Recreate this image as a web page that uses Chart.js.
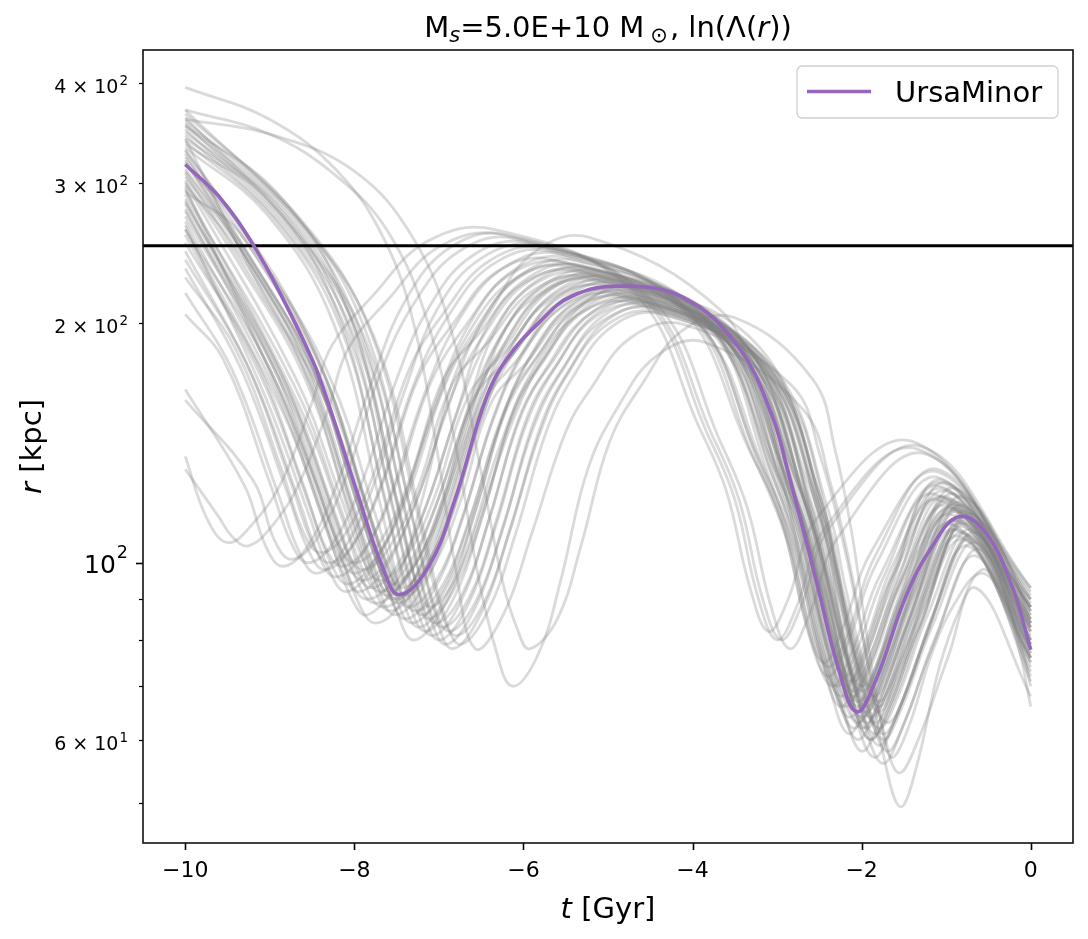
<!DOCTYPE html>
<html>
<head>
<meta charset="utf-8">
<script src="https://cdn.jsdelivr.net/npm/chart.js@4.4.1/dist/chart.umd.min.js"></script>
<style>
  html, body { margin: 0; padding: 0; background: #fff; }
  #wrap { width: 1088px; height: 939px; }
</style>
</head>
<body>
<div id="wrap"><canvas id="chart" width="1088" height="939"></canvas></div>
<script>
// ---------------- values ----------------
const xTicks = [-10, -8, -6, -4, -2, 0];
const yTicks = [50, 60, 70, 80, 90, 100, 200, 300, 400];
// label base + exponent, drawn as 'base' with a raised exponent
const yTickLabels = { 60: ['6 × 10', '1'], 100: ['10', '2'], 200: ['2 × 10', '2'], 300: ['3 × 10', '2'], 400: ['4 × 10', '2'] };
const xRange = [-10.5, 0.5];
const yRange = [44.5, 440];
const refRadius = 250;

// UrsaMinor orbit (t in Gyr, r in kpc)
const ursaT = [-10, -9.6, -9.21, -8.85, -8.5, -8.32, -7.94, -7.67, -7.47, -7.12, -6.81, -6.45, -6.2, -5.82, -5.43, -4.85, -4.1, -3.45, -3.06, -2.87, -2.54, -2.27, -2.06, -1.83, -1.48, -1.17, -0.85, -0.53, -0.22, 0];
const ursaR = [316, 288, 252, 215, 180, 160, 120, 99, 91.2, 99, 120, 160, 180, 200, 216, 222.4, 215, 186, 153, 130, 95.2, 73.4, 65, 71.3, 90.6, 104.7, 114.2, 109, 93.3, 77.8];

// sampled orbits, each one a flat list t, r, t, r, ...
// main family, close in phase to UrsaMinor
const grayA = [
  [-10,240, -9.30,180, -8.75,126, -8.50,106, -8.30,100, -8.00,106, -7.65,127, -7.25,170, -6.84,199, -6.31,232, -5.65,240, -3.98,202, -3.14,130, -2.80,105, -2.52,79, -2.30,70, -2.07,77, -1.72,97, -1.15,122, 0,88],
  [-10,246, -9.22,173, -8.67,121, -8.42,102, -8.22,96, -7.92,102, -7.57,122, -7.17,163, -6.75,203, -6.22,235, -5.55,244, -3.90,205, -3.08,127, -2.75,99, -2.47,75, -2.25,66, -2.02,73, -1.67,92, -1.10,125, 0,86],
  [-10,252, -9.15,178, -8.60,125, -8.35,105, -8.15,99, -7.85,105, -7.50,126, -7.10,168, -6.69,198, -6.16,230, -5.50,238, -3.85,200, -3.03,131, -2.70,108, -2.42,81, -2.20,72, -1.97,79, -1.62,100, -1.10,120, 0,90],
  [-10,258, -9.08,169, -8.53,118, -8.28,100, -8.08,94, -7.78,100, -7.43,119, -7.03,160, -6.63,200, -6.11,233, -5.45,241, -3.85,202, -3.05,128, -2.75,102, -2.47,77, -2.25,68, -2.02,75, -1.67,95, -1.05,127, 0,84],
  [-10,262, -9.00,175, -8.45,122, -8.20,103, -8.00,97, -7.70,103, -7.35,123, -6.95,165, -6.57,196, -6.05,228, -5.40,236, -3.78,198, -2.96,123, -2.65,96, -2.37,72, -2.15,64, -1.92,70, -1.57,89, -1.00,118, 0,82],
  [-10,268, -8.95,166, -8.40,116, -8.15,98, -7.95,92, -7.65,98, -7.30,117, -6.90,156, -6.52,198, -6.00,231, -5.35,239, -3.78,201, -2.99,129, -2.70,105, -2.42,79, -2.20,70, -1.97,77, -1.62,97, -1.05,124, 0,88],
  [-10,272, -8.90,171, -8.35,120, -8.10,101, -7.90,95, -7.60,101, -7.25,121, -6.85,162, -6.47,193, -5.95,225, -5.30,233, -3.70,196, -2.90,120, -2.60,93, -2.32,70, -2.10,62, -1.87,68, -1.52,86, -0.95,115, 0,80],
  [-10,278, -8.85,162, -8.30,113, -8.05,95, -7.85,90, -7.55,95, -7.20,114, -6.80,153, -6.45,196, -5.94,228, -5.30,236, -3.72,198, -2.94,126, -2.65,100, -2.37,76, -2.15,67, -1.92,74, -1.57,93, -1.00,121, 0,85],
  [-10,282, -8.80,167, -8.25,117, -8.00,99, -7.80,93, -7.50,99, -7.15,118, -6.75,158, -6.40,192, -5.89,223, -5.25,231, -3.68,194, -2.89,128, -2.60,107, -2.32,80, -2.10,71, -1.87,78, -1.52,99, -1.00,126, 0,90],
  [-10,286, -8.75,160, -8.20,112, -7.95,94, -7.75,89, -7.45,94, -7.10,113, -6.70,151, -6.35,194, -5.84,226, -5.20,234, -3.62,197, -2.84,121, -2.55,94, -2.27,71, -2.05,63, -1.82,69, -1.47,88, -0.95,112, 0,78],
  [-10,290, -8.70,166, -8.15,116, -7.90,98, -7.70,92, -7.40,98, -7.05,117, -6.65,156, -6.30,190, -5.79,221, -5.15,229, -3.62,192, -2.86,125, -2.60,102, -2.32,77, -2.10,68, -1.87,75, -1.52,95, -0.95,119, 0,84],
  [-10,294, -8.66,158, -8.11,111, -7.86,93, -7.66,88, -7.36,93, -7.01,112, -6.61,150, -6.25,193, -5.74,224, -5.10,232, -3.58,195, -2.81,118, -2.55,90, -2.27,68, -2.05,60, -1.82,66, -1.47,83, -0.90,110, 0,76],
  [-10,298, -9.42,250, -8.62,177, -8.07,118, -7.82,99, -7.62,91, -7.29,99, -6.96,120, -6.60,159, -6.23,188, -5.73,219, -5.10,227, -3.58,191, -2.81,122, -2.55,99, -2.27,75, -2.05,66, -1.82,73, -1.47,92, -0.95,117, 0,83],
  [-10,302, -9.38,239, -8.58,170, -8.03,113, -7.78,94, -7.58,87, -7.25,94, -6.92,115, -6.56,152, -6.19,191, -5.68,222, -5.05,230, -3.52,193, -2.76,126, -2.50,104, -2.22,78, -2.00,69, -1.77,76, -1.42,96, -0.90,122, 0,87],
  [-10,305, -9.35,248, -8.55,176, -8.00,117, -7.75,98, -7.55,90, -7.22,98, -6.89,119, -6.53,158, -6.15,187, -5.64,217, -5.00,225, -3.50,189, -2.75,118, -2.50,93, -2.22,70, -2.00,62, -1.77,68, -1.42,86, -0.90,113, 0,79],
  [-10,308, -9.32,237, -8.52,168, -7.97,112, -7.72,93, -7.52,86, -7.19,93, -6.86,114, -6.50,151, -6.11,189, -5.59,220, -4.95,228, -3.45,192, -2.70,122, -2.45,98, -2.17,73, -1.95,65, -1.72,72, -1.37,90, -0.85,116, 0,81],
  [-10,312, -9.28,245, -8.48,174, -7.93,116, -7.68,97, -7.48,89, -7.15,97, -6.82,117, -6.46,156, -6.09,185, -5.58,215, -4.95,223, -3.48,187, -2.71,114, -2.50,87, -2.22,66, -2.00,58, -1.77,64, -1.42,81, -0.85,108, 0,75],
  [-10,316, -9.24,256, -8.44,181, -7.89,121, -7.64,101, -7.44,93, -7.11,101, -6.78,123, -6.42,163, -6.04,188, -5.54,218, -4.90,226, -3.42,190, -2.69,123, -2.45,100, -2.17,76, -1.95,67, -1.72,74, -1.37,93, -0.85,119, 0,85],
  [-10,320, -9.20,234, -8.40,166, -7.85,111, -7.60,92, -7.40,85, -7.07,92, -6.74,112, -6.38,149, -6.00,183, -5.49,212, -4.85,220, -3.40,185, -2.68,118, -2.45,94, -2.17,71, -1.95,63, -1.72,69, -1.37,88, -0.80,112, 0,79],
  [-10,323, -9.16,242, -8.36,172, -7.81,114, -7.56,95, -7.36,88, -7.03,95, -6.70,116, -6.34,154, -5.98,186, -5.48,216, -4.85,224, -3.38,188, -2.64,116, -2.40,90, -2.12,68, -1.90,60, -1.67,66, -1.32,83, -0.80,109, 0,76],
  [-10,326, -9.12,231, -8.32,164, -7.77,109, -7.52,91, -7.32,84, -6.99,91, -6.66,111, -6.30,147, -5.93,181, -5.43,210, -4.80,218, -3.38,183, -2.66,120, -2.45,99, -2.17,75, -1.95,66, -1.72,73, -1.37,92, -0.85,117, 0,83],
  [-10,329, -9.08,239, -8.28,170, -7.73,113, -7.48,94, -7.28,87, -6.95,94, -6.62,115, -6.26,152, -5.89,183, -5.38,213, -4.75,221, -3.32,186, -2.61,124, -2.40,105, -2.12,79, -1.90,70, -1.67,77, -1.32,97, -0.80,121, 0,88],
  [-10,332, -9.04,274, -8.24,199, -7.69,118, -7.44,91, -7.24,83, -6.91,91, -6.58,115, -6.22,154, -5.87,179, -5.37,208, -4.75,216, -3.30,181, -2.58,115, -2.35,92, -2.07,69, -1.85,61, -1.62,67, -1.27,85, -0.80,111, 0,78],
  [-10,335, -9.00,284, -8.20,206, -7.65,122, -7.40,95, -7.20,86, -6.87,95, -6.54,119, -6.18,159, -5.83,182, -5.33,211, -4.70,219, -3.30,184, -2.60,118, -2.40,96, -2.12,72, -1.90,64, -1.67,70, -1.32,89, -0.75,114, 0,80],
  [-10,338, -8.96,271, -8.16,197, -7.61,116, -7.36,90, -7.16,82, -6.83,90, -6.50,113, -6.14,152, -5.78,178, -5.28,207, -4.65,214, -3.25,180, -2.55,110, -2.35,86, -2.07,64, -1.85,57, -1.62,63, -1.27,79, -0.75,105, 0,73],
  [-10,341, -8.92,281, -8.12,204, -7.57,121, -7.32,94, -7.12,85, -6.79,94, -6.46,117, -6.10,157, -5.76,180, -5.27,209, -4.65,217, -3.25,182, -2.55,122, -2.35,102, -2.07,77, -1.85,68, -1.62,75, -1.27,95, -0.80,118, 0,84],
  [-10,344, -8.88,267, -8.08,194, -7.53,115, -7.28,89, -7.08,81, -6.75,89, -6.42,112, -6.06,150, -5.72,176, -5.22,205, -4.60,212, -3.20,178, -2.50,115, -2.30,93, -2.02,70, -1.80,62, -1.57,68, -1.22,86, -0.70,110, 0,77],
  [-10,347, -8.84,277, -8.04,202, -7.49,119, -7.24,92, -7.04,84, -6.71,92, -6.38,116, -6.02,155, -5.67,178, -5.17,207, -4.55,215, -3.18,181, -2.49,113, -2.30,89, -2.02,67, -1.80,59, -1.57,65, -1.22,82, -0.70,107, 0,74],
  [-10,350, -8.80,264, -8.00,192, -7.45,114, -7.20,88, -7.00,80, -6.67,88, -6.34,110, -5.98,148, -5.65,174, -5.16,203, -4.55,210, -3.18,176, -2.49,117, -2.30,98, -2.02,73, -1.80,65, -1.57,72, -1.22,90, -0.75,113, 0,80],
  [-10,353, -8.76,274, -7.96,199, -7.41,118, -7.16,91, -6.96,83, -6.63,91, -6.30,115, -5.94,154, -5.61,177, -5.12,206, -4.50,213, -3.12,179, -2.44,114, -2.25,92, -1.97,69, -1.75,61, -1.52,67, -1.17,85, -0.70,108, 0,76],
  [-10,356, -8.72,261, -7.92,190, -7.37,112, -7.12,87, -6.92,79, -6.59,87, -6.26,109, -5.90,146, -5.56,173, -5.07,201, -4.45,208, -3.10,175, -2.42,108, -2.25,84, -1.97,63, -1.75,56, -1.52,62, -1.17,78, -0.65,102, 0,71],
  [-10,359, -8.68,271, -7.88,197, -7.33,116, -7.08,90, -6.88,82, -6.55,90, -6.22,113, -5.86,152, -5.54,175, -5.06,204, -4.45,211, -3.12,177, -2.46,118, -2.30,99, -2.02,75, -1.80,66, -1.57,73, -1.22,92, -0.70,115, 0,82],
  [-10,362, -8.64,257, -7.84,187, -7.29,111, -7.04,86, -6.84,78, -6.51,86, -6.18,108, -5.82,144, -5.50,171, -5.01,199, -4.40,206, -3.08,173, -2.41,111, -2.25,90, -1.97,68, -1.75,60, -1.52,66, -1.17,83, -0.65,106, 0,75],
  [-10,366, -8.60,267, -7.80,194, -7.25,115, -7.00,89, -6.80,81, -6.47,89, -6.14,112, -5.78,150, -5.48,173, -5.00,202, -4.40,209, -3.05,176, -2.38,115, -2.20,94, -1.92,71, -1.70,63, -1.47,69, -1.12,88, -0.65,109, 0,77],
  [-10,370, -8.55,261, -7.75,190, -7.20,112, -6.95,87, -6.75,79, -6.42,87, -6.09,109, -5.73,146, -5.43,170, -4.95,198, -4.35,205, -3.02,172, -2.36,109, -2.20,87, -1.92,66, -1.70,58, -1.47,64, -1.12,81, -0.60,104, 0,72],
  [-10,300, -8.70,171, -8.15,120, -7.90,101, -7.70,95, -7.40,101, -7.05,121, -6.65,162, -6.22,184, -5.68,214, -5.00,222, -3.52,186, -2.79,122, -2.55,100, -2.27,76, -2.05,67, -1.82,74, -1.47,93, -0.90,116, 0,83],
  [-10,310, -9.40,253, -8.60,179, -8.05,120, -7.80,100, -7.60,92, -7.27,100, -6.94,121, -6.58,161, -6.14,182, -5.61,211, -4.95,219, -3.48,184, -2.74,118, -2.50,96, -2.22,72, -2.00,64, -1.77,70, -1.42,89, -0.85,113, 0,80],
  [-10,318, -9.30,248, -8.50,176, -7.95,117, -7.70,98, -7.50,90, -7.17,98, -6.84,119, -6.48,158, -6.07,180, -5.55,209, -4.90,217, -3.42,182, -2.69,116, -2.45,93, -2.17,70, -1.95,62, -1.72,68, -1.37,86, -0.85,110, 0,78],
  [-10,284, -8.90,176, -8.35,123, -8.10,104, -7.90,98, -7.60,104, -7.25,124, -6.85,167, -6.42,189, -5.88,220, -5.20,228, -3.65,192, -2.88,125, -2.60,104, -2.32,78, -2.10,69, -1.87,76, -1.52,96, -0.95,120, 0,86],
  [-10,276, -9.00,180, -8.45,126, -8.20,106, -8.00,100, -7.70,106, -7.35,127, -6.95,170, -6.54,193, -6.01,224, -5.35,232, -3.75,195, -2.95,128, -2.65,107, -2.37,80, -2.15,71, -1.92,78, -1.57,99, -1.00,123, 0,88],
  [-10,330, -9.20,250, -8.40,177, -7.85,118, -7.60,99, -7.40,91, -7.07,99, -6.74,120, -6.38,159, -5.97,178, -5.45,207, -4.80,215, -3.35,181, -2.62,114, -2.40,90, -2.12,68, -1.90,60, -1.67,66, -1.32,83, -0.80,107, 0,76],
  [-10,296, -8.75,151, -8.20,106, -7.95,89, -7.75,84, -7.45,89, -7.10,107, -6.70,143, -6.32,188, -5.80,218, -5.15,226, -3.60,190, -2.82,121, -2.55,98, -2.27,73, -2.05,65, -1.82,72, -1.47,90, -0.90,117, 0,82],
  [-10,340, -9.10,220, -8.30,156, -7.75,104, -7.50,87, -7.30,80, -6.97,87, -6.64,106, -6.28,140, -5.87,176, -5.35,205, -4.70,212, -3.28,178, -2.56,116, -2.35,94, -2.07,71, -1.85,63, -1.62,69, -1.27,88, -0.75,112, 0,79],
  [-10,265, -9.10,166, -8.55,116, -8.30,98, -8.10,92, -7.80,98, -7.45,117, -7.05,156, -6.64,195, -6.11,227, -5.45,235, -3.82,197, -3.01,125, -2.70,99, -2.42,75, -2.20,66, -1.97,73, -1.62,92, -1.05,121, 0,85],
  [-10,354, -8.90,290, -8.10,211, -7.55,125, -7.30,97, -7.10,88, -6.77,97, -6.44,121, -6.08,155, -5.72,184, -5.22,214, -4.60,222, -3.20,186, -2.50,122, -2.30,100, -2.02,76, -1.80,67, -1.57,74, -1.22,93, -0.75,116, 0,83],
  [-10,292, -9.35,259, -8.55,183, -8.00,122, -7.75,102, -7.55,94, -7.22,102, -6.89,124, -6.53,165, -6.18,189, -5.68,220, -5.05,228, -3.52,192, -2.76,126, -2.50,105, -2.22,79, -2.00,70, -1.77,77, -1.42,97, -0.90,124, 0,87]
];

// early-phase orbits (first pericentre near -8.5 Gyr)
const grayB = [
  [-10,165, -9.30,125, -9.05,105, -8.85,99, -8.55,105, -8.20,126, -7.80,168, -7.39,214, -6.86,249, -6.20,258, -4.58,217, -3.76,144, -3.45,120, -3.17,90, -2.95,80, -2.72,88, -2.37,111, -1.30,140, 0,93],
  [-10,160, -9.20,127, -8.95,107, -8.75,101, -8.45,107, -8.10,128, -7.70,172, -7.29,212, -6.76,246, -6.10,255, -4.48,214, -3.66,141, -3.35,117, -3.07,88, -2.85,78, -2.62,86, -2.27,108, -1.25,137, 0,91],
  [-10,205, -9.55,180, -9.00,126, -8.75,106, -8.55,100, -8.25,106, -7.90,127, -7.50,170, -7.12,209, -6.60,243, -5.95,252, -4.20,212, -3.32,138, -2.95,113, -2.67,85, -2.45,75, -2.22,83, -1.87,104, -1.10,130, 0,89],
  [-10,218, -9.45,175, -8.90,122, -8.65,103, -8.45,97, -8.15,103, -7.80,123, -7.40,165, -7.02,208, -6.50,241, -5.85,250, -4.12,210, -3.26,134, -2.90,108, -2.62,81, -2.40,72, -2.17,79, -1.82,100, -1.10,128, 0,88],
  [-10,228, -9.40,185, -8.85,130, -8.60,109, -8.40,103, -8.10,109, -7.75,131, -7.35,175, -6.94,206, -6.41,239, -5.75,248, -4.05,208, -3.20,132, -2.85,105, -2.57,79, -2.35,70, -2.12,77, -1.77,97, -1.05,126, 0,87],
  [-10,234, -9.35,176, -8.80,123, -8.55,104, -8.35,98, -8.05,104, -7.70,124, -7.30,167, -6.89,204, -6.36,237, -5.70,246, -4.05,207, -3.22,135, -2.90,111, -2.62,84, -2.40,74, -2.17,81, -1.82,103, -1.10,131, 0,90]
];

// orbits starting close to pericentre at -10 Gyr
const grayC = [
  [-10,136, -9.75,114, -9.50,106, -9.20,112, -8.85,127, -8.50,159, -8.27,187, -7.77,217, -7.14,253, -6.35,262, -4.72,220, -3.91,147, -3.60,123, -3.32,93, -3.10,82, -2.87,90, -2.52,114, -1.40,142, 0,92],
  [-10,131, -9.60,114, -9.45,108, -9.25,105, -8.95,112, -8.65,126, -8.30,157, -8.08,185, -7.60,214, -7.00,249, -6.25,258, -4.62,217, -3.81,144, -3.50,120, -3.22,90, -3.00,80, -2.77,88, -2.42,111, -1.35,139, 0,93]
];

// late, deep orbits
const grayD = [
  [-10,395, -9.00,360, -8.20,310, -7.65,255, -7.30,200, -7.02,138, -6.80,98, -6.57,78, -6.24,86, -5.90,109, -5.50,146, -5.21,165, -4.72,192, -4.10,199, -2.83,167, -2.48,135, -2.20,104, -1.99,81, -1.75,62, -1.56,54.5, -1.33,60, -0.98,76, -0.65,93, 0,68],
  [-10,370, -9.00,345, -8.20,305, -7.60,260, -7.13,200, -6.80,140, -6.55,98, -6.33,78, -6.13,70, -5.82,77, -5.56,95, -5.24,131, -4.88,157, -4.42,182, -3.85,189, -2.70,156, -2.37,126, -2.12,97, -1.93,75, -1.72,56, -1.54,49.4, -1.36,55, -1.08,74, -0.83,88, -0.58,98, -0.36,93, -0.15,79, 0,66],
  [-10,360, -9.00,345, -8.00,310, -7.30,255, -6.85,195, -6.50,130, -6.25,95, -6.08,83, -5.93,78, -5.60,85, -5.32,105, -4.98,142, -4.59,168, -4.11,196, -3.50,203, -2.58,170, -2.31,138, -2.11,108, -1.96,84, -1.79,65, -1.65,57, -1.45,62, -1.15,78, -0.87,90, -0.60,97, -0.38,93, -0.16,82, 0,70],
  [-10,262, -8.85,155, -8.30,108, -8.05,91, -7.85,86, -7.50,95, -7.19,121, -6.82,171, -6.40,206, -5.88,245, -5.22,256, -3.68,208, -3.25,166, -2.92,125, -2.67,95, -2.38,70, -2.15,61, -1.92,68, -1.57,90, -1.26,107, -0.95,118, -0.59,113, -0.25,99, 0,84]
];

// ---------------- chart ----------------
const FONT = 'DejaVu Sans';
const PURPLE = '#9467bd';

function toXY(flat) {
  const pts = [];
  for (let i = 0; i < flat.length; i += 2) pts.push({ x: flat[i], y: flat[i + 1] });
  return pts;
}

const grayDatasets = [...grayA, ...grayB, ...grayC, ...grayD].map(orbit => ({
  data: toXY(orbit),
  borderColor: 'rgba(128,128,128,0.29)',
  borderWidth: 2.8,
  pointRadius: 0,
  tension: 0.4,
  order: 3
}));

const datasets = [
  {
    label: 'UrsaMinor',
    data: ursaT.map((t, i) => ({ x: t, y: ursaR[i] })),
    borderColor: PURPLE,
    borderWidth: 3.6,
    pointRadius: 0,
    tension: 0.4,
    order: 1
  },
  {
    data: [{ x: xRange[0], y: refRadius }, { x: xRange[1], y: refRadius }],
    borderColor: '#000',
    borderWidth: 3,
    pointRadius: 0,
    order: 2
  },
  ...grayDatasets
];

// draw a line of text made of pieces with their own font / offset
function drawPieces(ctx, pieces, x, y, align) {
  let total = 0;
  pieces.forEach(p => {
    ctx.font = p.font;
    p.w = ctx.measureText(p.text).width + (p.gap || 0);
    total += p.w;
  });
  let cx = align === 'center' ? x - total / 2 : align === 'right' ? x - total : x;
  ctx.textAlign = 'left';
  ctx.textBaseline = 'alphabetic';
  pieces.forEach(p => {
    ctx.font = p.font;
    ctx.fillText(p.text, cx + (p.gap || 0), y + (p.dy || 0));
    cx += p.w;
  });
}

const decorPlugin = {
  id: 'decor',
  afterDraw(chart) {
    const { ctx, chartArea: a, scales } = chart;
    ctx.save();
    ctx.fillStyle = '#000';
    ctx.strokeStyle = '#000';

    // tick marks
    ctx.lineWidth = 1.6;
    xTicks.forEach(v => {
      const px = Math.round(scales.x.getPixelForValue(v)) + 0.5;
      ctx.beginPath(); ctx.moveTo(px, a.bottom); ctx.lineTo(px, a.bottom + 7); ctx.stroke();
    });
    yTicks.forEach(v => {
      const py = Math.round(scales.y.getPixelForValue(v)) + 0.5;
      const major = v === 100;
      ctx.lineWidth = major ? 1.6 : 1.2;
      ctx.beginPath(); ctx.moveTo(a.left, py); ctx.lineTo(a.left - (major ? 7 : 4), py); ctx.stroke();
    });

    // y tick labels with raised exponent
    yTicks.forEach(v => {
      const lab = yTickLabels[v];
      if (!lab) return;
      const py = scales.y.getPixelForValue(v);
      const major = v === 100;
      const bs = major ? 25 : 19, ss = major ? 17.5 : 13.5;
      drawPieces(ctx, [
        { text: lab[0], font: `${bs}px "${FONT}"` },
        { text: lab[1], font: `${ss}px "${FONT}"`, dy: major ? -15 : -8, gap: 1 }
      ], a.left - 15, py + (major ? 10.5 : 10.3), 'right');
    });

    // frame
    ctx.lineWidth = 1.6;
    ctx.strokeStyle = '#111';
    ctx.strokeRect(a.left, a.top, a.right - a.left, a.bottom - a.top);

    // title
    const cx = (a.left + a.right) / 2;
    drawPieces(ctx, [
      { text: 'M', font: `29px "${FONT}"` },
      { text: 's', font: `italic 21px "${FONT}"`, dy: 5 },
      { text: '=5.0E+10 M', font: `29px "${FONT}"` },
      { text: '⊙', font: `21px "${FONT}"`, dy: 5, gap: 6 },
      { text: ', ln(Λ(', font: `29px "${FONT}"`, gap: 2 },
      { text: 'r', font: `italic 29px "${FONT}"` },
      { text: '))', font: `29px "${FONT}"` }
    ], cx, 37, 'center');

    // x axis title
    drawPieces(ctx, [
      { text: 't', font: `italic 29px "${FONT}"` },
      { text: ' [Gyr]', font: `29px "${FONT}"` }
    ], cx, 918, 'center');

    // y axis title
    ctx.save();
    ctx.translate(41, (a.top + a.bottom) / 2);
    ctx.rotate(-Math.PI / 2);
    drawPieces(ctx, [
      { text: 'r', font: `italic 29px "${FONT}"` },
      { text: ' [kpc]', font: `29px "${FONT}"` }
    ], 0, 0, 'center');
    ctx.restore();

    // legend
    const lx = 797, ly = 66, lw = 261, lh = 52, r = 5;
    ctx.beginPath();
    ctx.moveTo(lx + r, ly);
    ctx.arcTo(lx + lw, ly, lx + lw, ly + lh, r);
    ctx.arcTo(lx + lw, ly + lh, lx, ly + lh, r);
    ctx.arcTo(lx, ly + lh, lx, ly, r);
    ctx.arcTo(lx, ly, lx + lw, ly, r);
    ctx.closePath();
    ctx.fillStyle = 'rgba(255,255,255,0.8)';
    ctx.fill();
    ctx.lineWidth = 1.3;
    ctx.strokeStyle = '#d0d0d0';
    ctx.stroke();
    ctx.strokeStyle = PURPLE;
    ctx.lineWidth = 3.6;
    ctx.beginPath(); ctx.moveTo(807, 91.5); ctx.lineTo(871, 91.5); ctx.stroke();
    ctx.fillStyle = '#000';
    ctx.font = `29px "${FONT}"`;
    ctx.textAlign = 'left';
    ctx.textBaseline = 'alphabetic';
    ctx.fillText('UrsaMinor', 895, 101.5);

    ctx.restore();
  }
};

new Chart(document.getElementById('chart').getContext('2d'), {
  type: 'line',
  data: { datasets },
  options: {
    responsive: false,
    animation: false,
    devicePixelRatio: 1,
    layout: { padding: { left: 0, right: 15, top: 50, bottom: 0 } },
    plugins: { legend: { display: false }, tooltip: { enabled: false }, title: { display: false } },
    scales: {
      x: {
        type: 'linear',
        min: xRange[0],
        max: xRange[1],
        afterBuildTicks: s => { s.ticks = xTicks.map(v => ({ value: v })); },
        afterFit: s => { s.height = 96; },
        grid: { display: false, drawTicks: false },
        border: { display: false },
        ticks: {
          autoSkip: false, maxRotation: 0, padding: 15, color: '#000',
          font: { family: FONT, size: 22 },
          callback: v => v < 0 ? '\u2212' + Math.abs(v) : String(v)
        }
      },
      y: {
        type: 'logarithmic',
        min: yRange[0],
        max: yRange[1],
        afterBuildTicks: s => { s.ticks = yTicks.map(v => ({ value: v })); },
        afterFit: s => { s.width = 143; },
        grid: { display: false, drawTicks: false },
        border: { display: false },
        ticks: { display: false }
      }
    }
  },
  plugins: [decorPlugin]
});
</script>
</body>
</html>
